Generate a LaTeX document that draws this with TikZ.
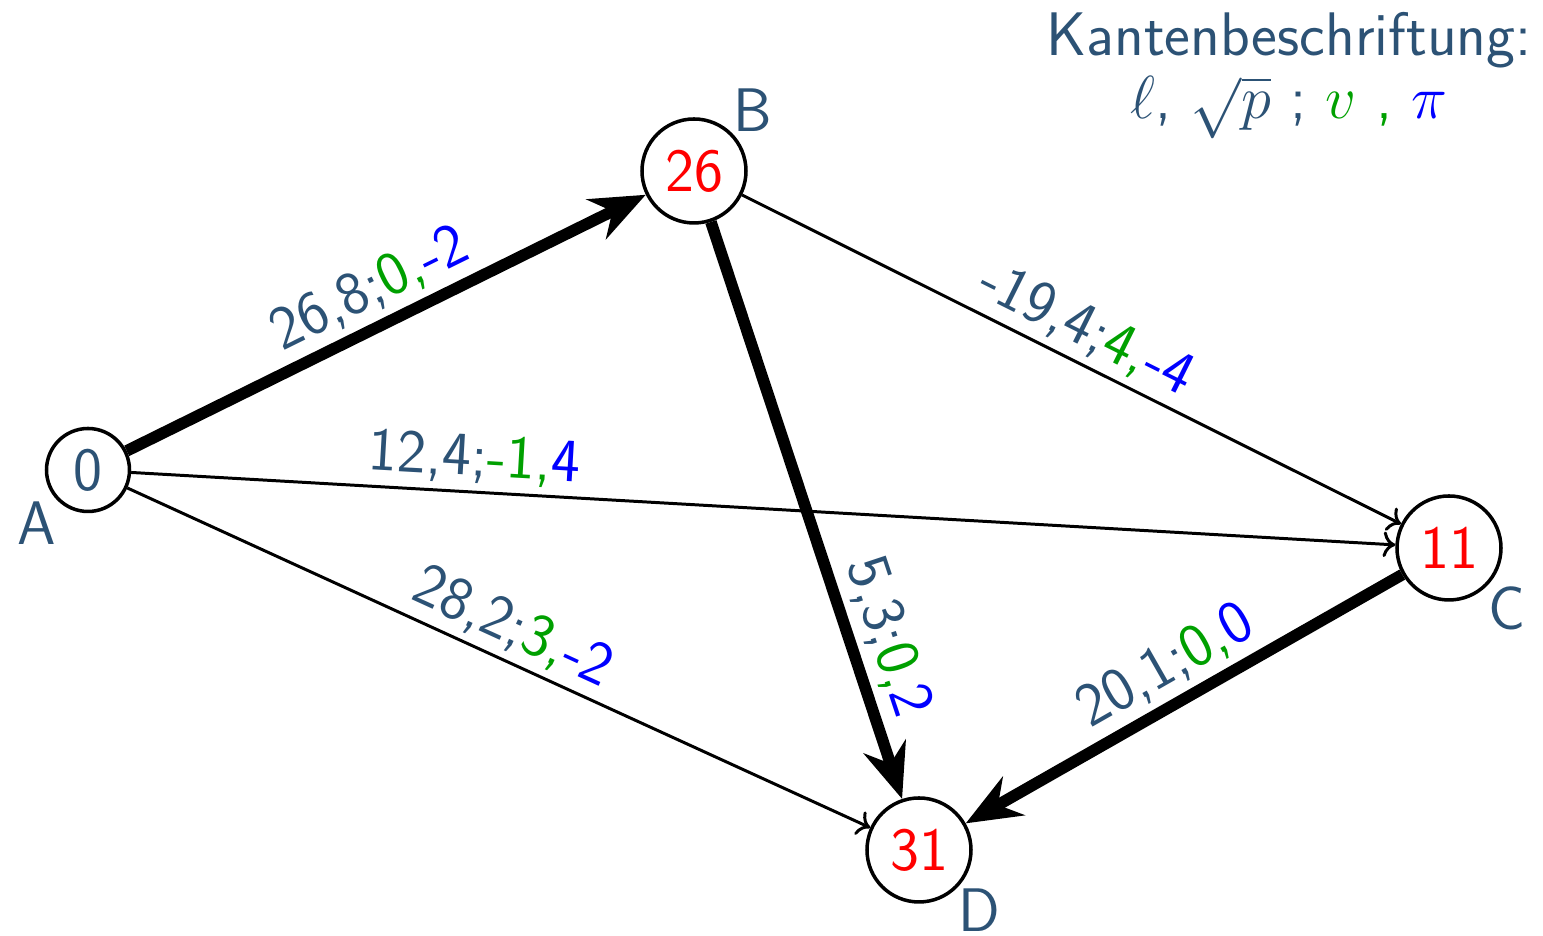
\documentclass[tikz,border=0pt]{standalone}
\usepackage{amsmath}
\usetikzlibrary{arrows.meta,positioning}
\definecolor{textblue}{RGB}{44,82,117}
\definecolor{vgreen}{RGB}{0,160,0}
\definecolor{piblue}{RGB}{0,0,255}
\definecolor{potred}{RGB}{255,0,0}
\newcommand{\kante}[3]{#1;\textcolor{vgreen}{#2,}\textcolor{piblue}{#3}}
\begin{document}
\begin{tikzpicture}[font=\sffamily\fontsize{17.5}{21}\selectfont,
  vertex/.style={circle,draw,line width=1pt,minimum size=1.04cm,inner sep=0pt,text=potred},
  small/.style={minimum size=0.83cm,text=textblue},
  nlabel/.style={text=textblue,label distance=-1.6mm},
  heavy/.style={line width=3.3pt,-{Stealth[length=5.5mm,width=4.4mm]}},
  light/.style={line width=0.85pt,->},
  elab/.style={sloped,above,text=textblue,inner sep=2pt}]
  \useasboundingbox (0,0) rectangle (15.43,9.36);
  \node[vertex,small,label={[nlabel]below left:A}] (A) at (0.88,4.66) {0};
  \node[vertex,label={[nlabel]above right:B}] (B) at (6.94,7.65) {26};
  \node[vertex,label={[nlabel]below right:C}] (C) at (14.49,3.88) {11};
  \node[vertex,label={[nlabel]below right:D}] (D) at (9.19,0.86) {31};
  \node[align=center,text=textblue,anchor=north east] (legend) at (15.44,9.36)
    {Kantenbeschriftung:\\[-3pt] $\ell$, $\sqrt{p}$ ; \textcolor{vgreen}{$v$ ,} \textcolor{piblue}{$\pi$}\hspace{0.3cm}};
  \draw[heavy] (A) -- node[elab]{\kante{26,8}{0}{-2}} (B);
  \draw[light] (A) -- node[elab,pos=0.27]{\kante{12,4}{-1}{4}} (C);
  \draw[light] (B) -- node[elab]{\kante{-19,4}{4}{-4}} (C);
  \draw[light] (A) -- node[elab]{\kante{28,2}{3}{-2}} (D);
  \draw[heavy] (B) -- node[elab,pos=0.74]{\kante{5,3}{0}{2}} (D);
  \draw[heavy] (C) -- node[elab]{\kante{20,1}{0}{0}} (D);
\end{tikzpicture}
\end{document}
